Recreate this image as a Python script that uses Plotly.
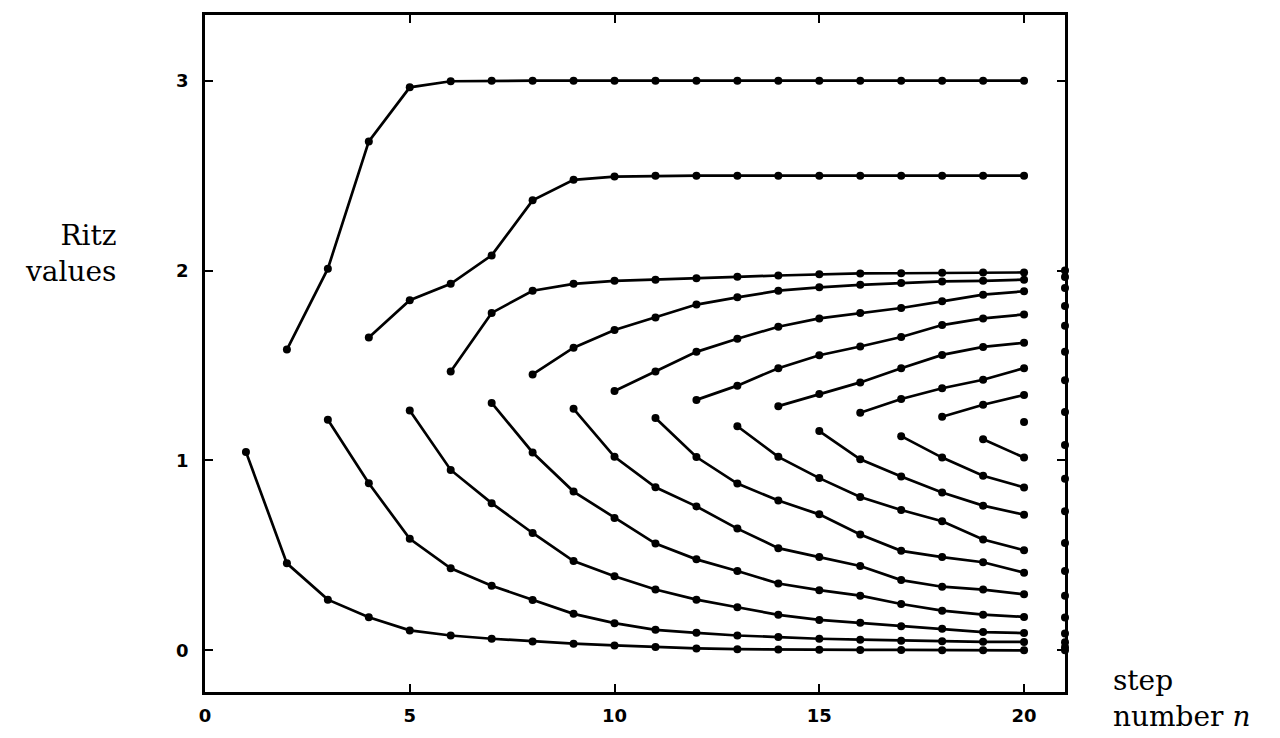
import plotly.graph_objects as go

# ---- data: Ritz values per Lanczos step (curves of k-th largest / k-th smallest) ----
top_1_start = 2
top_1 = [1.584, 2.01, 2.68, 2.965, 2.997, 3.0, 3.0, 3.0, 3.0, 3.0, 3.0, 3.0, 3.0, 3.0, 3.0, 3.0, 3.0, 3.0, 3.0]
top_2_start = 4
top_2 = [1.647, 1.844, 1.93, 2.08, 2.37, 2.478, 2.495, 2.499, 2.5, 2.5, 2.5, 2.5, 2.5, 2.5, 2.5, 2.5, 2.5]
top_3_start = 6
top_3 = [1.469, 1.777, 1.894, 1.93, 1.946, 1.952, 1.96, 1.967, 1.974, 1.981, 1.985, 1.986, 1.988, 1.99, 1.99]
top_4_start = 8
top_4 = [1.453, 1.594, 1.687, 1.753, 1.821, 1.859, 1.894, 1.912, 1.925, 1.934, 1.943, 1.946, 1.952]
top_5_start = 10
top_5 = [1.366, 1.469, 1.572, 1.641, 1.704, 1.748, 1.777, 1.803, 1.838, 1.873, 1.891]
top_6_start = 12
top_6 = [1.319, 1.394, 1.486, 1.554, 1.6, 1.65, 1.713, 1.748, 1.769]
top_7_start = 14
top_7 = [1.286, 1.35, 1.411, 1.486, 1.556, 1.598, 1.62]
top_8_start = 16
top_8 = [1.251, 1.324, 1.38, 1.425, 1.486]
top_9_start = 18
top_9 = [1.23, 1.293, 1.345]
top_10_start = 20
top_10 = [1.203]

bot_1_start = 1
bot_1 = [1.045, 0.458, 0.267, 0.174, 0.105, 0.078, 0.061, 0.047, 0.035, 0.026, 0.017, 0.01, 0.006, 0.004, 0.003, 0.002, 0.002, 0.001, 0.001, 0.0]
bot_2_start = 3
bot_2 = [1.214, 0.88, 0.587, 0.432, 0.34, 0.265, 0.192, 0.143, 0.108, 0.092, 0.078, 0.07, 0.061, 0.056, 0.051, 0.048, 0.045, 0.044]
bot_3_start = 5
bot_3 = [1.263, 0.95, 0.775, 0.618, 0.47, 0.39, 0.32, 0.267, 0.227, 0.187, 0.16, 0.145, 0.127, 0.113, 0.096, 0.091]
bot_4_start = 7
bot_4 = [1.303, 1.042, 0.836, 0.697, 0.562, 0.479, 0.418, 0.352, 0.317, 0.288, 0.244, 0.209, 0.188, 0.176]
bot_5_start = 9
bot_5 = [1.272, 1.019, 0.859, 0.758, 0.641, 0.538, 0.491, 0.444, 0.37, 0.335, 0.32, 0.295]
bot_6_start = 11
bot_6 = [1.224, 1.018, 0.878, 0.789, 0.716, 0.61, 0.524, 0.491, 0.464, 0.409]
bot_7_start = 13
bot_7 = [1.18, 1.019, 0.907, 0.807, 0.739, 0.68, 0.584, 0.527]
bot_8_start = 15
bot_8 = [1.155, 1.006, 0.915, 0.831, 0.762, 0.714]
bot_9_start = 17
bot_9 = [1.128, 1.015, 0.919, 0.858]
bot_10_start = 19
bot_10 = [1.112, 1.015]

# reference points shown on the right edge
edge_step = 21
edge_values = [0.0, 0.016, 0.042, 0.089, 0.173, 0.288, 0.418, 0.565, 0.732, 0.904,
               1.082, 1.255, 1.422, 1.573, 1.709, 1.814, 1.908, 1.966, 2.0]

x_ticks = [0, 5, 10, 15, 20]
y_ticks = [0, 1, 2, 3]

curves = [
    (top_1_start, top_1), (top_2_start, top_2), (top_3_start, top_3), (top_4_start, top_4),
    (top_5_start, top_5), (top_6_start, top_6), (top_7_start, top_7), (top_8_start, top_8),
    (top_9_start, top_9), (top_10_start, top_10),
    (bot_1_start, bot_1), (bot_2_start, bot_2), (bot_3_start, bot_3), (bot_4_start, bot_4),
    (bot_5_start, bot_5), (bot_6_start, bot_6), (bot_7_start, bot_7), (bot_8_start, bot_8),
    (bot_9_start, bot_9), (bot_10_start, bot_10),
]

fig = go.Figure()
for start, vals in curves:
    xs = list(range(start, start + len(vals)))
    fig.add_trace(go.Scatter(
        x=xs, y=vals, mode="lines+markers",
        line=dict(color="black", width=2.7),
        marker=dict(color="black", size=8),
        showlegend=False, hoverinfo="skip",
    ))

fig.add_trace(go.Scatter(
    x=[edge_step] * len(edge_values), y=edge_values, mode="markers",
    marker=dict(color="black", size=8), cliponaxis=False,
    showlegend=False, hoverinfo="skip",
))

tickfont = dict(family="DejaVu Sans", size=18, color="black", weight="bold")
labelfont = dict(family="DejaVu Serif", size=28, color="black")

fig.update_layout(
    width=1280, height=738,
    margin=dict(l=205, r=215, t=15, b=41),
    paper_bgcolor="white", plot_bgcolor="white",
    xaxis=dict(
        range=[0, 21], tickvals=x_ticks, ticktext=[str(v) for v in x_ticks],
        ticks="inside", ticklen=8, tickwidth=2, tickcolor="black",
        showline=True, linecolor="black", linewidth=2.5, mirror="ticks",
        showgrid=False, zeroline=False, tickfont=tickfont, ticklabelstandoff=6,
    ),
    yaxis=dict(
        range=[-0.2195, 3.346], tickvals=y_ticks, ticktext=[str(v) for v in y_ticks],
        ticks="inside", ticklen=8, tickwidth=2, tickcolor="black",
        showline=True, linecolor="black", linewidth=2.5, mirror="ticks",
        showgrid=False, zeroline=False, tickfont=tickfont, ticklabelstandoff=10,
    ),
    annotations=[
        dict(text="Ritz<br>values", xref="paper", yref="paper", x=-0.101, y=0.647,
             xanchor="right", yanchor="middle", align="right", showarrow=False,
             font=labelfont),
        dict(text="step<br>number <i>n</i>", xref="paper", yref="paper", x=1.0534, y=-0.010,
             xanchor="left", yanchor="middle", align="left", showarrow=False,
             font=labelfont),
    ],
)

fig.write_html("out.html")
